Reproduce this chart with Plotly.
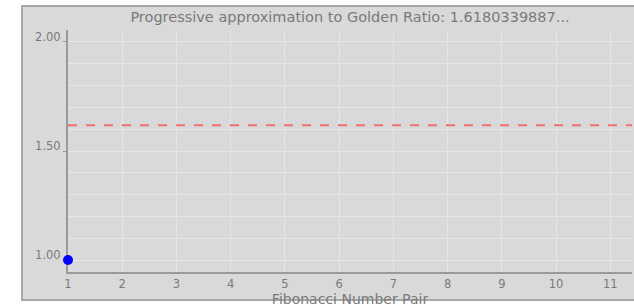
import plotly.graph_objects as go

# Data
pair_index = [1]
ratio_values = [1.0]
golden_ratio = 1.6180339887
x_ticks = list(range(1, 12))
y_tick_vals = [1.0, 1.5, 2.0]
y_tick_text = ["1.00", "1.50", "2.00"]
title_text = "Progressive approximation to Golden Ratio: 1.6180339887..."
x_title = "Fibonacci Number Pair"

W, H = 634, 307
ml, mr, mt, mb = 68, 2, 30, 35
pw = W - ml - mr
ph = H - mt - mb

fig = go.Figure()
fig.add_trace(go.Scatter(
    x=pair_index, y=ratio_values, mode="markers",
    marker=dict(color="#0000ff", size=10), showlegend=False, cliponaxis=False,
))

# panel background (in paper coords, extending into margins)
fig.add_shape(type="rect", xref="paper", yref="paper",
              x0=(22 - ml) / pw, x1=(W + 5 - ml) / pw,
              y0=-(300 - mt - ph) / ph, y1=1 + (mt - 6) / ph,
              fillcolor="#d9d9d9", line=dict(color="#a8a8a8", width=2), layer="below")

# golden ratio reference line
fig.add_shape(type="line", xref="paper", yref="y", x0=0, x1=1,
              y0=golden_ratio, y1=golden_ratio,
              line=dict(color="#ee6f6f", width=2, dash="dash"))

fig.update_layout(
    width=W, height=H,
    margin=dict(l=ml, r=mr, t=mt, b=mb),
    paper_bgcolor="white", plot_bgcolor="rgba(0,0,0,0)",
    title=dict(text=title_text, x=0.5, xref="paper", xanchor="center",
               y=1 - 17 / H, yanchor="middle",
               font=dict(family="DejaVu Sans", size=14.5, color="#7a7a7a")),
    font=dict(family="DejaVu Sans", size=11.5, color="#7a7a7a"),
)
fig.update_xaxes(
    range=[1, 11.4], tickvals=x_ticks, ticktext=[str(v) for v in x_ticks],
    showgrid=True, gridcolor="#e6e6e6", gridwidth=1, layer="below traces",
    showline=True, linecolor="#9a9a9a", linewidth=2,
    zeroline=False, ticks="", ticklen=0,
    title=dict(text=x_title, standoff=0, font=dict(size=14, color="#7a7a7a")),
)
fig.update_yaxes(
    range=[0.945, 2.055], tickvals=y_tick_vals, ticktext=y_tick_text,
    showgrid=False, ticklabelshift=-5, layer="below traces",
    showline=True, linecolor="#9a9a9a", linewidth=2,
    zeroline=False, ticks="outside", ticklen=3, tickcolor="#9a9a9a",
    minor=dict(dtick=0.1, tick0=1.0, showgrid=True, gridcolor="#e6e6e6", gridwidth=1, ticks=""),
)
fig.write_html("out.html", config={"displayModeBar": False, "staticPlot": True},
               post_script="document.body.style.margin='0';")
